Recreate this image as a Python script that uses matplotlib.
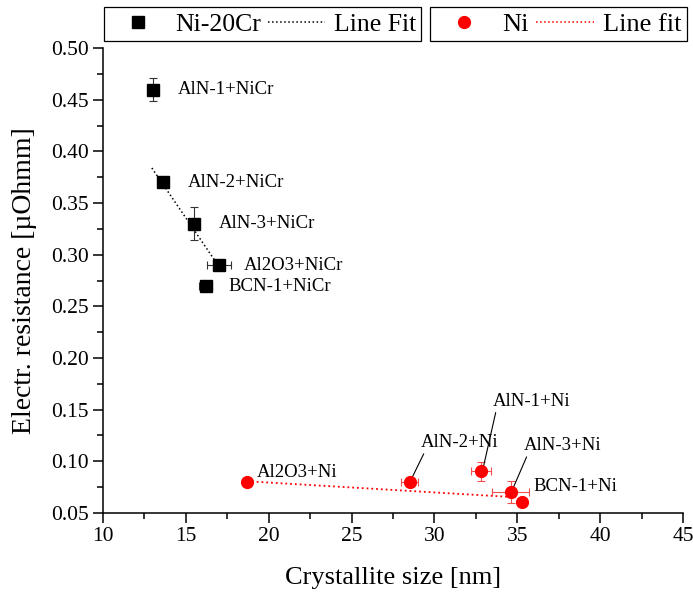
import matplotlib
matplotlib.use('Agg')
import matplotlib.pyplot as plt
from matplotlib.lines import Line2D
from matplotlib.ticker import MultipleLocator

plt.rcParams['font.family'] = ['Liberation Serif', 'DejaVu Serif']

# Ni-20Cr samples
nicr_labels = ["AlN-1+NiCr", "AlN-2+NiCr", "AlN-3+NiCr", "Al2O3+NiCr", "BCN-1+NiCr"]
nicr_size = [13.0, 13.6, 15.5, 17.0, 16.2]
nicr_res = [0.46, 0.37, 0.33, 0.29, 0.27]
nicr_xerr = [0.3, 0.2, 0.3, 0.7, 0.4]
nicr_yerr = [0.011, 0.004, 0.016, 0.004, 0.003]
nicr_fit_x = [12.95, 16.85]
nicr_fit_y = [0.384, 0.292]

# Ni samples
ni_labels = ["Al2O3+Ni", "AlN-2+Ni", "AlN-1+Ni", "AlN-3+Ni", "BCN-1+Ni"]
ni_size = [18.7, 28.5, 32.8, 34.6, 35.3]
ni_res = [0.080, 0.080, 0.090, 0.070, 0.060]
ni_xerr = [0.0, 0.5, 0.6, 1.1, 0.0]
ni_yerr = [0.0, 0.0, 0.009, 0.011, 0.0]
ni_fit_x = [18.7, 34.9]
ni_fit_y = [0.0805, 0.065]

# label placement (data coords) and whether a leader line is drawn
nicr_text = [(14.5, 0.46), (15.1, 0.37), (17.0, 0.33), (18.5, 0.29), (17.6, 0.269)]
ni_text = [(19.3, 0.089), (29.2, 0.118), (33.5, 0.158), (35.4, 0.115), (36.0, 0.075)]
ni_leader = [False, True, True, True, False]

fig = plt.figure(figsize=(6.93, 5.96), dpi=100)
ax = fig.add_axes([0.1486, 0.1397, 0.8370, 0.7793])

ax.errorbar(nicr_size, nicr_res, xerr=nicr_xerr, yerr=nicr_yerr, fmt='s',
            color='black', ms=8, ecolor='#333333', elinewidth=0.8, capsize=3,
            capthick=0.8, zorder=3)
ax.plot(nicr_fit_x, nicr_fit_y, ':', color='black', lw=1.1, zorder=2)

ax.errorbar(ni_size, ni_res, xerr=ni_xerr, yerr=ni_yerr, fmt='o',
            color='#ff0000', ms=8.5, ecolor='#f05050', elinewidth=0.8,
            capsize=3, capthick=0.8, zorder=3)
ax.plot(ni_fit_x, ni_fit_y, ':', color='#ff0000', lw=1.3, zorder=2)

for lab, (tx, ty) in zip(nicr_labels, nicr_text):
    ax.text(tx, ty, lab, fontsize=13.5, va='center', ha='left')

for lab, x, y, (tx, ty), lead in zip(ni_labels, ni_size, ni_res, ni_text, ni_leader):
    if lead:
        ax.annotate(lab, xy=(x + 0.15, y + 0.004), xytext=(tx, ty),
                    fontsize=13.5, va='center', ha='left',
                    arrowprops=dict(arrowstyle='-', color='black', lw=0.8,
                                    shrinkA=0, shrinkB=0,
                                    relpos=(0.05, 0.0)))
    else:
        ax.text(tx, ty, lab, fontsize=13.5, va='center', ha='left')

ax.set_xlim(10, 45)
ax.set_ylim(0.05, 0.50)
ax.xaxis.set_major_locator(MultipleLocator(5))
ax.xaxis.set_minor_locator(MultipleLocator(2.5))
ax.yaxis.set_major_locator(MultipleLocator(0.05))
ax.yaxis.set_minor_locator(MultipleLocator(0.025))
ax.tick_params(which='major', direction='out', length=7, width=1.1, labelsize=15.5)
ax.tick_params(which='minor', direction='out', length=4, width=1.1)
ax.spines['top'].set_visible(False)
ax.spines['right'].set_visible(False)
ax.spines['left'].set_linewidth(1.1)
ax.spines['bottom'].set_linewidth(1.1)
ax.set_xlabel("Crystallite size [nm]", fontsize=19, labelpad=15)
ax.set_ylabel("Electr. resistance [µOhmm]", fontsize=20, labelpad=10)

leg_kw = dict(ncol=2, loc='upper left', frameon=True,
              fancybox=False, edgecolor='black', framealpha=1,
              borderaxespad=0, handlelength=2.2,
              columnspacing=0.27, handletextpad=0.35)

h1 = [Line2D([], [], ls='none', marker='s', color='black', ms=8),
      Line2D([], [], ls=':', color='black', lw=1.1)]
leg1 = fig.legend(h1, ["Ni-20Cr", "Line Fit"], fontsize=18.5, borderpad=0.22,
                  bbox_to_anchor=(104 / 693, 1 - 7 / 596), **leg_kw)
leg1.get_frame().set_linewidth(0.9)

h2 = [Line2D([], [], ls='none', marker='o', color='#ff0000', ms=8.5),
      Line2D([], [], ls=':', color='#ff0000', lw=1.1)]
leg2 = fig.legend(h2, ["Ni", "Line fit"], fontsize=19, borderpad=0.2,
                  bbox_to_anchor=(430 / 693, 1 - 7 / 596), **leg_kw)
leg2.get_frame().set_linewidth(0.9)

fig.savefig("out.png", dpi=100)
